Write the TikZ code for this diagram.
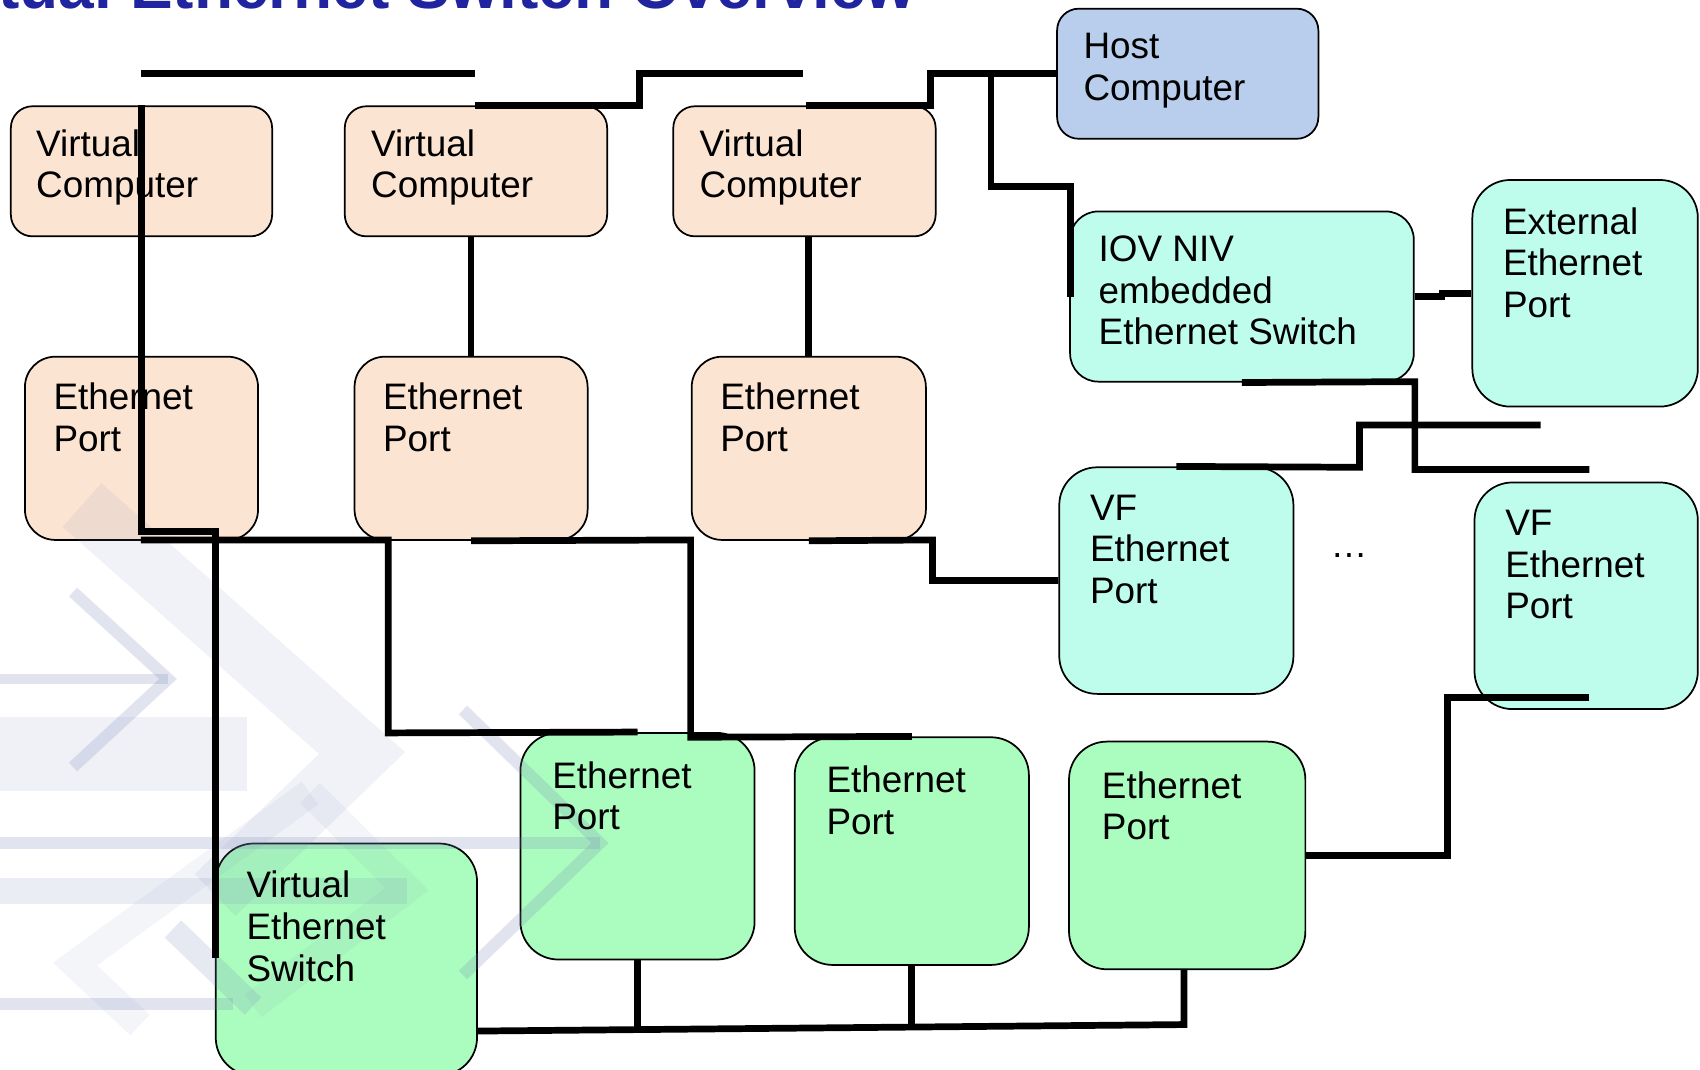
\documentclass[tikz,border=0pt]{standalone}
\usepackage{fontspec}
\setmainfont{Liberation Sans}
\usetikzlibrary{fit,calc}
\definecolor{peach}{RGB}{252,228,210}
\definecolor{hostblue}{RGB}{184,206,236}
\definecolor{aqua}{RGB}{190,253,235}
\definecolor{mint}{RGB}{170,253,190}
\definecolor{titleblue}{RGB}{32,36,158}
\definecolor{wm}{RGB}{120,135,185}
\tikzset{
  box/.style={draw=black, line width=0.8pt, inner sep=0pt, rounded corners=#1},
  txt/.style={anchor=north west, inner sep=0pt, align=left, font=\fontsize{17}{19.25}\selectfont},
  wire/.style={draw=black, line width=3.1pt, line join=miter},
  wmdark/.style={draw=wm, draw opacity=0.22, line width=#1},
  wmlight/.style={draw=wm, draw opacity=0.10, line width=#1},
}
\begin{document}
\begin{tikzpicture}[x=0.5pt, y=-0.5pt]
\useasboundingbox (0,0) rectangle (1568,986);
\clip (0,0) rectangle (1568,986);
\fill[white] (0,0) rectangle (1568,986);

% title (cut off by the top edge)
\node[anchor=base east, inner sep=0pt, text=titleblue,
      font=\fontsize{29.5}{30}\selectfont\bfseries] (title) at (845,8) {Virtual Ethernet Switch Overview};

% boxes
\node[box=10pt, fill=peach, fit={(10,98) (251,218)}] (vc1) {};
\node[box=10pt, fill=peach, fit={(318,98) (560,218)}] (vc2) {};
\node[box=10pt, fill=peach, fit={(621,98) (863,218)}] (vc3) {};
\node[box=10pt, fill=hostblue, fit={(975,8) (1216,128)}] (host) {};
\node[box=14pt, fill=peach, fit={(23,329) (238,498)}] (ep1) {};
\node[box=14pt, fill=peach, fit={(327,329) (542,498)}] (ep2) {};
\node[box=14pt, fill=peach, fit={(638,329) (854,498)}] (ep3) {};
\node[box=13pt, fill=aqua, fit={(987,195) (1304,352)}] (iov) {};
\node[box=17.5pt, fill=aqua, fit={(1358,166) (1566,375)}] (ext) {};
\node[box=17.5pt, fill=aqua, fit={(977,431) (1193,640)}] (vf1) {};
\node[box=17.5pt, fill=aqua, fit={(1360,445) (1566,654)}] (vf2) {};
\node[box=17.5pt, fill=mint, fit={(480,676) (696,885)}] (ga) {};
\node[box=17.5pt, fill=mint, fit={(733,680) (949,890)}] (gb) {};
\node[box=17.5pt, fill=mint, fit={(986,684) (1204,894)}] (gc) {};
\node[box=17.5pt, fill=mint, fit={(199,778) (440,992)}] (ves) {};

% faint background watermark
\begin{scope}[scale=0.92235]
  \fill[wm, opacity=0.11] (0,717) rectangle (247,791);
  \draw[wmlight=27pt] (82,505) -- (362,753) -- (215,895);
  \draw[wmdark=4.2pt] (0,679) -- (168,679);
  \draw[wmdark=5.5pt] (73,592) -- (168,679) -- (73,767);
  \draw[wmdark=5.5pt] (0,843) -- (600,843);
  \draw[wmdark=5.5pt] (463,710) -- (600,843) -- (463,975);
  \fill[wm, opacity=0.15] (0,878) rectangle (407,904);
  \draw[draw=wm, draw opacity=0.08, line width=13pt] (310,793) -- (407,889) -- (253,1006);
  \draw[draw=wm, draw opacity=0.08, line width=13pt] (310,793) -- (75,964) -- (140,1025);
  \draw[draw=wm, draw opacity=0.18, line width=11pt] (173,929) -- (253,1006);
  \draw[wmdark=5.5pt] (0,1004) -- (233,1004);
\end{scope}

% texts
\node[txt] (t-vc1) at (33,119) {Virtual\\Computer};
\node[txt] (t-vc2) at (342,119) {Virtual\\Computer};
\node[txt] (t-vc3) at (645,119) {Virtual\\Computer};
\node[txt] (t-host) at (999,30) {Host\\Computer};
\node[txt] (t-ep1) at (49,353) {Ethernet\\Port};
\node[txt] (t-ep2) at (353,353) {Ethernet\\Port};
\node[txt] (t-ep3) at (664,353) {Ethernet\\Port};
\node[txt] (t-iov) at (1013,217) {IOV NIV\\embedded\\Ethernet Switch};
\node[txt] (t-ext) at (1386,191) {External\\Ethernet\\Port};
\node[txt] (t-vf1) at (1005,456) {VF\\Ethernet\\Port};
\node[txt] (t-vf2) at (1388,470) {VF\\Ethernet\\Port};
\node[txt] (t-ga) at (509,702) {Ethernet\\Port};
\node[txt] (t-gb) at (762,706) {Ethernet\\Port};
\node[txt] (t-gc) at (1016,711) {Ethernet\\Port};
\node[txt] (t-ves) at (227,803) {Virtual\\Ethernet\\Switch};
\node[anchor=base west, inner sep=0pt, font=\fontsize{17}{19}\selectfont] (dots) at (1227,514) {…};

% free ends
\coordinate (a1) at (130,68);
\coordinate (a2) at (438,68);
\coordinate (b1) at (438,97);
\coordinate (b2) at (741,68);
\coordinate (c1) at (743,97);
\coordinate (hj) at (914,68);
\coordinate (j2) at (1466,433);
\coordinate (k2) at (1421,392);
\coordinate (l1) at (1466,643);
\coordinate (busL) at (440,951);

% connectors
\draw[wire] (a1) -- (a2);
\draw[wire] (b1) -- (590,97) -- (590,68) -- (b2);
\draw[wire] (c1) -- (858,97) -- (858,68) -- (host.west);
\draw[wire] (hj) -- (914,172) -- (987.5,172) -- (987.5,273.5);
\draw[wire] (vc1.north) -- (130.5,490) -- (199,490) -- (199,884);
\draw[wire] (130,498) -- (358,498) -- (358,676) -- (ga.north);
\draw[wire] (ep2.south) -- (637,498) -- (637,680) -- (gb.north);
\draw[wire] (ep2.north) -- (ep2.north |- vc2.south);
\draw[wire] (ep3.north) -- (ep3.north |- vc3.south);
\draw[wire] (ep3.south) -- (860,498) -- (860,535.5) -- (vf1.west);
\draw[wire] (iov.east) -- (1330,273.5) -- (1330,270.5) -- (ext.west);
\draw[wire] (iov.south) -- (1305,352) -- (1305,433) -- (j2);
\draw[wire] (vf1.north) -- (1254,431) -- (1254,392) -- (k2);
\draw[wire] (l1) -- (1335,643) -- (1335,789) -- (gc.east);
\draw[wire] (busL) -- (1092,945) -- (1092,894);
\draw[wire] (ga.south) -- (588,947.5);
\draw[wire] (gb.south) -- (841,946);
\end{tikzpicture}
\end{document}
